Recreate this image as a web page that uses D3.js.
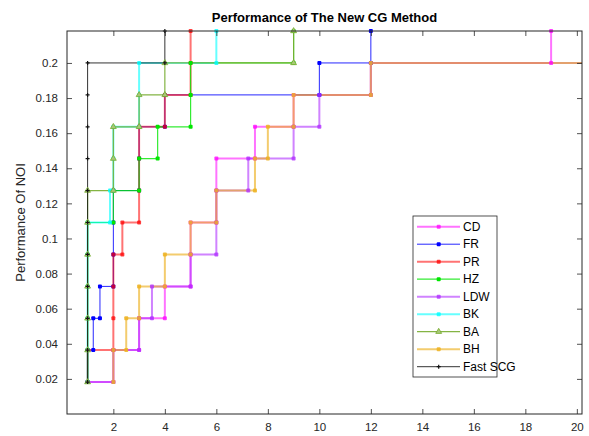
<!DOCTYPE html>
<html>
<head>
<meta charset="utf-8">
<script src="https://cdnjs.cloudflare.com/ajax/libs/d3/7.8.5/d3.min.js"></script>
<style>
  body { margin: 0; background: #fff; }
  svg { font-family: "Liberation Sans", Arial, sans-serif; }
</style>
</head>
<body>
<div id="chart"></div>
<script>
// performance profile levels (fraction of problems solved)
var yLevels = [0.0182, 0.0364, 0.0545, 0.0727, 0.0909, 0.1091, 0.1273, 0.1455, 0.1636, 0.1818, 0.2, 0.2182];

// tau at which each method reaches each level (null = not reached in range)
var cdX   = [1, 2, 3, 4, 5, 5, 6, 6, 7.5, 9, 12, 19];
var frX   = [1, 1, 1.22, 1.48, 2, 2, 2, 3, 3, 4, 10, 12];
var prX   = [1, 1, 2, 2, 2, 2.35, 3, 3, 3, 4, 5, 5];
var hzX   = [1, 1, 1, 1, 1, 1, 2, 3, 3.72, 5, 5, 9];
var ldwX  = [1, 2, 3, 3.5, 5, 6, 6, 7.24, 9, 10, 12, null];
var bkX   = [1, 1, 1, 1, 1, 1, 1.87, 2, 2, 3, 3, 6];
var baX   = [1, 1, 1, 1, 1, 1, 1, 2, 2, 3, 4, 9];
var bhX   = [2, 2, 2.5, 3, 4, 5, 6, 7.5, 8, 9, 12, null];
var scgX  = [1, 1, 1, 1, 1, 1, 1, 1, 1, 1, 1, 4];

var names = ["CD", "FR", "PR", "HZ", "LDW", "BK", "BA", "BH", "Fast SCG"];
var xTicks = [2, 4, 6, 8, 10, 12, 14, 16, 18, 20];
var yTicks = [0.02, 0.04, 0.06, 0.08, 0.1, 0.12, 0.14, 0.16, 0.18, 0.2];

var series = [
  { name: "CD",       x: cdX,  color: "#ff00ff", op: 0.55, w: 2,   marker: "dot" },
  { name: "FR",       x: frX,  color: "#0000ff", op: 0.85, w: 1,   marker: "dot" },
  { name: "PR",       x: prX,  color: "#ff0000", op: 0.55, w: 2,   marker: "dot" },
  { name: "HZ",       x: hzX,  color: "#00e600", op: 0.8,  w: 1.2, marker: "dot" },
  { name: "LDW",      x: ldwX, color: "#b030ff", op: 0.6,  w: 2,   marker: "dot" },
  { name: "BK",       x: bkX,  color: "#00ffff", op: 0.6,  w: 2,   marker: "dot" },
  { name: "BA",       x: baX,  color: "#77ac30", op: 0.9,  w: 1.2, marker: "tri" },
  { name: "BH",       x: bhX,  color: "#edb120", op: 0.65, w: 2,   marker: "dot" },
  { name: "Fast SCG", x: scgX, color: "#111111", op: 0.85, w: 1,   marker: "plus" }
];

var svgWidth = 589;
var svgHeight = 436;
var margin = { top: 31, right: 7, bottom: 22, left: 67 };
var chartWidth = svgWidth - margin.left - margin.right;
var chartHeight = svgHeight - margin.top - margin.bottom;

var svg = d3.select("#chart")
  .append("svg")
  .attr("width", svgWidth)
  .attr("height", svgHeight);

var chartGroup = svg.append("g")
  .attr("transform", `translate(${margin.left}, ${margin.top})`);

var xScale = d3.scaleLinear().domain([0.2, 20.2]).range([0, chartWidth]);
var yScale = d3.scaleLinear().domain([0, 0.2182]).range([chartHeight, 0]);

svg.append("defs").append("clipPath").attr("id", "clip")
  .append("rect").attr("width", chartWidth).attr("height", chartHeight);

// turn level thresholds into staircase vertices
function stairs(xs) {
  var pts = [];
  for (var k = 0; k < xs.length; k++) {
    if (xs[k] === null) {
      pts.push({ x: xScale.domain()[1] + 1, y: yLevels[k - 1], end: true });
      break;
    }
    if (k > 0) pts.push({ x: xs[k], y: yLevels[k - 1] });
    pts.push({ x: xs[k], y: yLevels[k] });
  }
  return pts.filter((p, i) => i === 0 || p.x !== pts[i - 1].x || p.y !== pts[i - 1].y);
}

var line = d3.line().x(d => xScale(d.x)).y(d => yScale(d.y));
var plotArea = chartGroup.append("g").attr("clip-path", "url(#clip)");

function drawMarker(g, s, cx, cy) {
  if (s.marker === "tri") {
    g.append("path")
      .attr("d", d3.symbol(d3.symbolTriangle, 15)())
      .attr("transform", `translate(${cx},${cy})`)
      .attr("fill", "#a8c878").attr("stroke", s.color).attr("stroke-width", 0.8);
  } else if (s.marker === "plus") {
    g.append("path")
      .attr("d", `M${cx - 2},${cy}H${cx + 2}M${cx},${cy - 2}V${cy + 2}`)
      .attr("stroke", s.color).attr("stroke-width", 1.2);
  } else {
    g.append("rect")
      .attr("x", cx - 2).attr("y", cy - 2).attr("width", 4).attr("height", 4)
      .attr("rx", 1)
      .attr("fill", s.color).attr("opacity", Math.min(1, s.op + 0.2));
  }
}

series.forEach(function(s) {
  var pts = stairs(s.x);
  plotArea.append("path")
    .datum(pts)
    .attr("d", line)
    .attr("fill", "none")
    .attr("stroke", s.color)
    .attr("stroke-opacity", s.op)
    .attr("stroke-width", s.w);
  var mg = chartGroup.append("g");
  pts.filter(p => !p.end).forEach(p => drawMarker(mg, s, xScale(p.x), yScale(p.y)));
});

// axes with inward ticks on all four sides
var tickColor = "#262626";
var bottomAxis = d3.axisBottom(xScale).tickValues(xTicks).tickSize(-5).tickPadding(9).tickFormat(d3.format("d"));
var leftAxis = d3.axisLeft(yScale).tickValues(yTicks).tickSize(-5).tickPadding(9).tickFormat(d => d3.format("~g")(d));

var gx = chartGroup.append("g").attr("transform", `translate(0, ${chartHeight})`).call(bottomAxis);
var gy = chartGroup.append("g").call(leftAxis);
var gxTop = chartGroup.append("g").call(d3.axisTop(xScale).tickValues(xTicks).tickSize(-5).tickFormat(""));
var gyRight = chartGroup.append("g").attr("transform", `translate(${chartWidth}, 0)`)
  .call(d3.axisRight(yScale).tickValues(yTicks).tickSize(-5).tickFormat(""));

[gx, gy, gxTop, gyRight].forEach(function(g) {
  g.select(".domain").remove();
  g.selectAll("line").attr("stroke", tickColor).attr("stroke-width", 0.8);
  g.selectAll("text").attr("fill", tickColor).attr("font-size", "11.5px").attr("font-family", "Liberation Sans, Arial, sans-serif");
});

chartGroup.append("rect")
  .attr("width", chartWidth).attr("height", chartHeight)
  .attr("fill", "none").attr("stroke", tickColor).attr("stroke-width", 1);

// title
svg.append("text")
  .attr("x", margin.left + chartWidth / 2)
  .attr("y", 22)
  .attr("text-anchor", "middle")
  .attr("font-size", "13px")
  .attr("font-weight", "bold")
  .attr("fill", "#000")
  .text("Performance of The New CG Method");

// y axis title
svg.append("text")
  .attr("transform", "rotate(-90)")
  .attr("x", -(margin.top + chartHeight / 2))
  .attr("y", 25)
  .attr("text-anchor", "middle")
  .attr("font-size", "13px")
  .attr("fill", tickColor)
  .text("Performance Of NOI");

// legend
var legend = svg.append("g").attr("transform", "translate(413, 216)");
legend.append("rect")
  .attr("width", 84).attr("height", 161)
  .attr("fill", "#fff").attr("stroke", tickColor).attr("stroke-width", 0.8);

series.forEach(function(s, i) {
  var cy = 10.7 + i * 17.5;
  legend.append("line")
    .attr("x1", 4).attr("x2", 47).attr("y1", cy).attr("y2", cy)
    .attr("stroke", s.color).attr("stroke-opacity", s.op).attr("stroke-width", s.w);
  drawMarker(legend, s, 25.7, cy);
  legend.append("text")
    .attr("x", 50).attr("y", cy).attr("dy", "0.35em")
    .attr("font-size", "12px").attr("fill", "#000")
    .text(names[i]);
});
</script>
</body>
</html>
